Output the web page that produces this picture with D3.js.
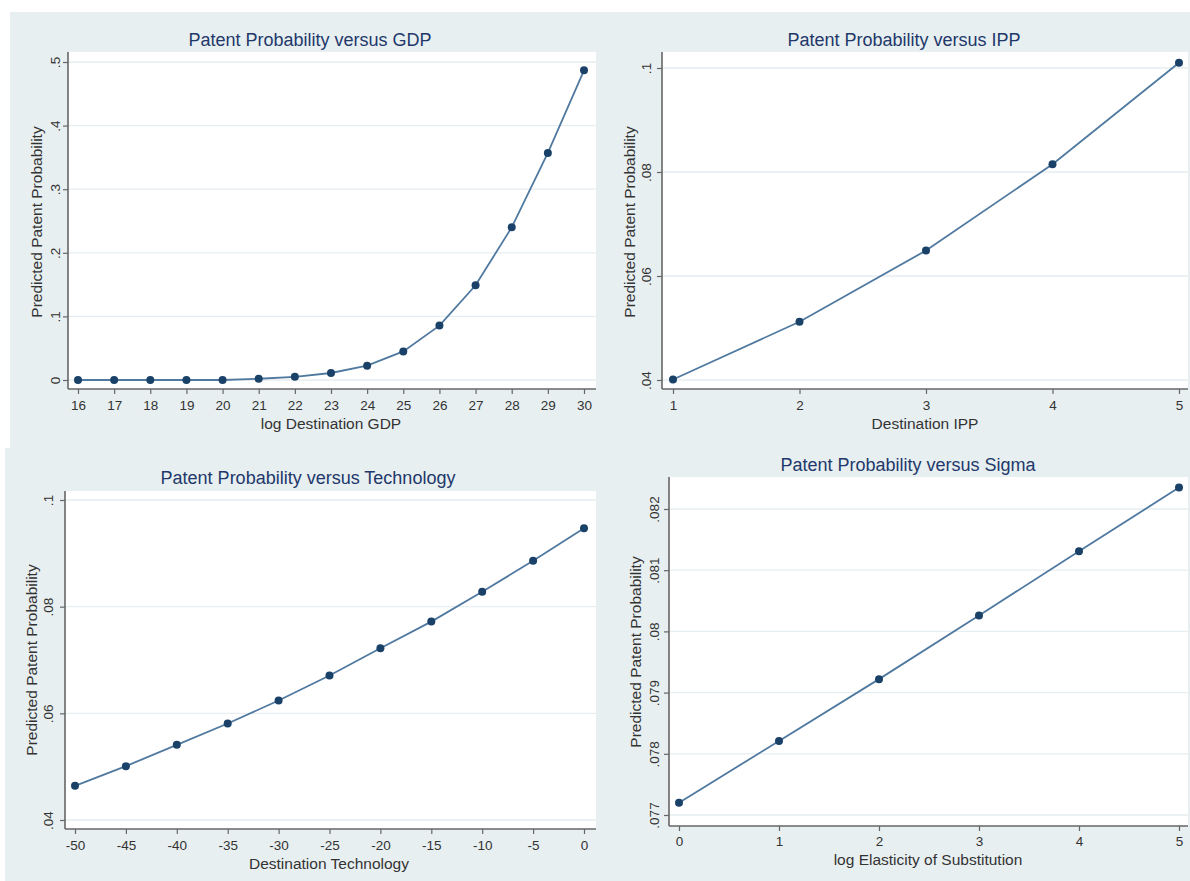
<!DOCTYPE html>
<html>
<head>
<meta charset="utf-8">
<script src="https://cdn.jsdelivr.net/npm/d3@7"></script>
<style>
  body { margin: 0; background: #fff; }
  svg { display: block; font-family: "Liberation Sans", Arial, sans-serif; }
</style>
</head>
<body>
<div id="grafica"></div>
<script>
// Datos
const gdpX = [16, 17, 18, 19, 20, 21, 22, 23, 24, 25, 26, 27, 28, 29, 30]
const gdpY = [0, 0, 0, 0, 0, 0.002, 0.005, 0.011, 0.0225, 0.045, 0.0855, 0.149, 0.240, 0.357, 0.487]
const gdpTicks = [0, 0.1, 0.2, 0.3, 0.4, 0.5]

const ippX = [1, 2, 3, 4, 5]
const ippY = [0.0401, 0.0512, 0.0649, 0.0815, 0.1010]
const ippTicks = [0.04, 0.06, 0.08, 0.1]

const techX = [-50, -45, -40, -35, -30, -25, -20, -15, -10, -5, 0]
const techY = [0.0464, 0.0501, 0.0541, 0.0581, 0.0624, 0.0671, 0.0722, 0.0772, 0.0828, 0.0886, 0.0947]
const techTicks = [0.04, 0.06, 0.08, 0.1]

const sigmaX = [0, 1, 2, 3, 4, 5]
const sigmaY = [0.0772, 0.07821, 0.07922, 0.08026, 0.08131, 0.08235]
const sigmaTicks = [0.077, 0.078, 0.079, 0.08, 0.081, 0.082]

const yTitle = "Predicted Patent Probability"

const anchoTotal = 1190
const altoTotal = 881

// Paneles (posiciones)
const paneles = [
  { titulo: "Patent Probability versus GDP", xTitulo: "log Destination GDP",
    xs: gdpX, ys: gdpY, yTicks: gdpTicks,
    plot: { l: 68, r: 596, t: 52, b: 389 }, xr: [78, 584], yr: [380, 62],
    tituloX: 310, tituloY: 40, xTitX: 331, xTitY: 423, tickY: 405, yLabX: 36, yLabY: 222, yTickX: 55 },
  { titulo: "Patent Probability versus IPP", xTitulo: "Destination IPP",
    xs: ippX, ys: ippY, yTicks: ippTicks,
    plot: { l: 662, r: 1188, t: 52, b: 389 }, xr: [673, 1179], yr: [380, 68],
    tituloX: 904, tituloY: 40, xTitX: 925, xTitY: 423, tickY: 405, yLabX: 629, yLabY: 222, yTickX: 646 },
  { titulo: "Patent Probability versus Technology", xTitulo: "Destination Technology",
    xs: techX, ys: techY, yTicks: techTicks,
    plot: { l: 65, r: 596, t: 491, b: 829 }, xr: [75, 584], yr: [820, 500],
    tituloX: 308, tituloY: 478, xTitX: 329, xTitY: 863, tickY: 845, yLabX: 31, yLabY: 660, yTickX: 48 },
  { titulo: "Patent Probability versus Sigma", xTitulo: "log Elasticity of Substitution",
    xs: sigmaX, ys: sigmaY, yTicks: sigmaTicks,
    plot: { l: 669, r: 1188, t: 477, b: 826 }, xr: [679, 1179], yr: [815, 509],
    tituloX: 908, tituloY: 465, xTitX: 928, xTitY: 859, tickY: 841, yLabX: 635, yLabY: 652, yTickX: 654 },
]

// formato estilo Stata: .5, .08, 0
const fmt = (v) => String(v).replace(/^0\./, ".").replace(/^-0\./, "-.")

const svg = d3.select("#grafica").append("svg")
    .attr("width", anchoTotal)
    .attr("height", altoTotal)

// fondos
svg.append("rect").attr("x", 10).attr("y", 12).attr("width", anchoTotal - 10).attr("height", 436).attr("fill", "#e8eff1")
svg.append("rect").attr("x", 5).attr("y", 448).attr("width", anchoTotal - 5).attr("height", altoTotal - 448).attr("fill", "#e8eff1")

paneles.forEach((p) => {
  const g = svg.append("g")

  const x = d3.scaleLinear().domain([p.xs[0], p.xs[p.xs.length - 1]]).range(p.xr)
  const y = d3.scaleLinear().domain([p.yTicks[0], p.yTicks[p.yTicks.length - 1]]).range(p.yr)

  // area del grafico
  g.append("rect")
    .attr("x", p.plot.l).attr("y", p.plot.t)
    .attr("width", p.plot.r - p.plot.l).attr("height", p.plot.b - p.plot.t)
    .attr("fill", "#fff")

  // rejilla
  g.selectAll(".grid").data(p.yTicks).join("line")
    .attr("x1", p.plot.l).attr("x2", p.plot.r)
    .attr("y1", (d) => y(d)).attr("y2", (d) => y(d))
    .attr("stroke", "#e6eef1").attr("stroke-width", 1.3)

  // Ejes
  const ejeX = g.append("g")
    .attr("transform", `translate(0,${p.plot.b})`)
    .call(d3.axisBottom(x).tickValues(p.xs).tickFormat(fmt).tickSize(5).tickSizeOuter(0).tickPadding(4))
  ejeX.select(".domain").remove()
  ejeX.selectAll(".tick line").attr("stroke", "#666").attr("stroke-width", 1.2)
  ejeX.selectAll(".tick text")
    .attr("y", null).attr("dy", null)
    .attr("transform", `translate(0,${p.tickY - p.plot.b})`)
    .attr("dominant-baseline", "central")
    .attr("font-size", "13.5px").attr("fill", "#333")

  const ejeY = g.append("g")
    .attr("transform", `translate(${p.plot.l},0)`)
    .call(d3.axisLeft(y).tickValues(p.yTicks).tickFormat(fmt).tickSize(5).tickSizeOuter(0))
  ejeY.select(".domain").remove()
  ejeY.selectAll(".tick line").attr("stroke", "#666").attr("stroke-width", 1.2)
  ejeY.selectAll(".tick text")
    .attr("x", null).attr("dy", null)
    .attr("text-anchor", "middle")
    .attr("dominant-baseline", "central")
    .attr("transform", `translate(${p.yTickX - p.plot.l},0) rotate(-90)`)
    .attr("font-size", "13.5px").attr("fill", "#333")

  // lineas de ejes
  g.append("line")
    .attr("x1", p.plot.l).attr("x2", p.plot.l)
    .attr("y1", p.plot.t).attr("y2", p.plot.b)
    .attr("stroke", "#666").attr("stroke-width", 1.6)
  g.append("line")
    .attr("x1", p.plot.l).attr("x2", p.plot.r)
    .attr("y1", p.plot.b).attr("y2", p.plot.b)
    .attr("stroke", "#666").attr("stroke-width", 1.6)

  // linea
  const puntos = p.xs.map((v, i) => ({ x: v, y: p.ys[i] }))
  const linea = d3.line().x((d) => x(d.x)).y((d) => y(d.y))
  g.append("path")
    .datum(puntos)
    .attr("d", linea)
    .attr("fill", "none")
    .attr("stroke", "#5079a0")
    .attr("stroke-width", 1.8)

  g.selectAll(".punto").data(puntos).join("circle")
    .attr("cx", (d) => x(d.x)).attr("cy", (d) => y(d.y))
    .attr("r", 4)
    .attr("fill", "#1a4168")

  // Titulos
  g.append("text")
    .attr("x", p.tituloX).attr("y", p.tituloY)
    .attr("text-anchor", "middle").attr("dominant-baseline", "central")
    .attr("font-size", "18px").attr("fill", "#22386a")
    .text(p.titulo)

  g.append("text")
    .attr("x", p.xTitX).attr("y", p.xTitY)
    .attr("text-anchor", "middle").attr("dominant-baseline", "central")
    .attr("font-size", "15.5px").attr("fill", "#333")
    .text(p.xTitulo)

  g.append("text")
    .attr("transform", `translate(${p.yLabX},${p.yLabY}) rotate(-90)`)
    .attr("text-anchor", "middle").attr("dominant-baseline", "central")
    .attr("font-size", "15.5px").attr("fill", "#333")
    .text(yTitle)
})
</script>
</body>
</html>
